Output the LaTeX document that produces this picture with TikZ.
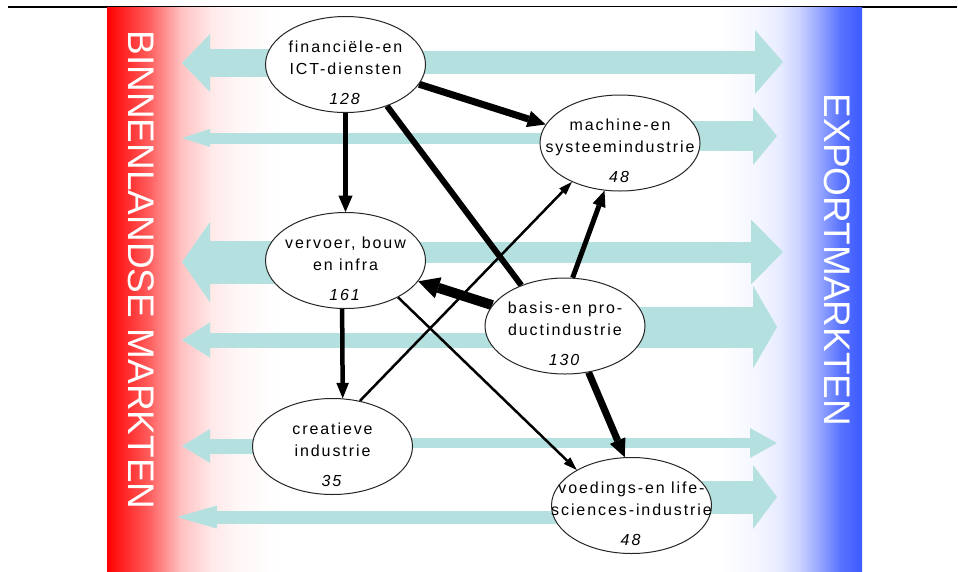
\documentclass[tikz,border=0pt]{standalone}
\usepackage{fontspec}
\setmainfont{Liberation Sans}
\newfontfamily\sectorfont{Liberation Sans}[LetterSpace=12]
\usetikzlibrary{arrows.meta,shapes.geometric}
\definecolor{flowcyan}{RGB}{180,224,224}
\definecolor{exportblue}{RGB}{60,90,255}
\pgfdeclarelayer{shade}
\pgfdeclarelayer{flows}
\pgfdeclarelayer{links}
\pgfsetlayers{shade,flows,links,main}
\newcommand{\sectorlabel}[3]{\strut #1\\#2\\[8pt]\textit{#3}}

\begin{document}
\begin{tikzpicture}[x=1pt,y=-1pt,
  sector/.style={ellipse,draw=black!85,line width=1pt,fill=white,minimum width=160pt,minimum height=96pt,inner sep=0pt},
  sectortext/.style={font=\sectorfont\fontsize{16}{22}\selectfont,align=center,inner sep=0pt,yshift=-6pt},
  flow/.style n args={3}{draw=flowcyan,line width=#1pt,-{Triangle[length=#3pt,width=#2pt,line width=0pt]}},
  link/.style={line width=#1pt,-{Triangle[length=11pt 1,width=5pt 1.7,line width=0pt]}},
  market/.style={text=white,font=\fontsize{37}{40}\selectfont,rotate=-90,inner sep=0pt}]
\useasboundingbox (0,0) rectangle (958,571);

\begin{pgfonlayer}{shade}
\draw[line width=1.2pt] (8,7) -- (957,7);
\fill[white] (107,7) rectangle (862,571);
\shade[left color=red, right color=red!62] (107,7) rectangle (150.5,571);
\shade[left color=red!62, right color=red!25] (150,7) rectangle (180.5,571);
\shade[left color=red!25, right color=red!9] (180,7) rectangle (210.5,571);
\shade[left color=red!9, right color=red!3] (210,7) rectangle (240.5,571);
\shade[left color=red!3, right color=white] (240,7) rectangle (280,571);
\shade[left color=white, right color=exportblue!4] (715,7) rectangle (750.5,571);
\shade[left color=exportblue!4, right color=exportblue!12] (750,7) rectangle (780.5,571);
\shade[left color=exportblue!12, right color=exportblue!28] (780,7) rectangle (800.5,571);
\shade[left color=exportblue!28, right color=exportblue!55] (800,7) rectangle (820.5,571);
\shade[left color=exportblue!55, right color=exportblue!85] (820,7) rectangle (840.5,571);
\shade[left color=exportblue!85, right color=exportblue] (840,7) rectangle (862,571);
\end{pgfonlayer}

\node[market] (binnen) at (141.5,270) {BINNENLANDSE MARKTEN};
\node[market] (export) at (837,260) {EXPORTMARKTEN};

\node[sector] (fin) at (345.5,64.5) {};
\node[sector] (mach) at (620,143) {};
\node[sector] (verv) at (345.5,260.5) {};
\node[sector] (bas) at (565,326) {};
\node[sector] (crea) at (332.5,446.5) {};
\node[sector] (voed) at (631.5,505.5) {};

\node[sectortext] (fintext) at (fin) {\sectorlabel{financiële-en}{ICT-diensten}{128}};
\node[sectortext] (machtext) at (mach) {\sectorlabel{machine-en}{systeemindustrie}{48}};
\node[sectortext] (vervtext) at (verv) {\sectorlabel{vervoer, bouw}{en infra}{161}};
\node[sectortext] (bastext) at (bas) {\sectorlabel{basis-en pro-}{ductindustrie}{130}};
\node[sectortext] (creatext) at (crea) {\sectorlabel{creatieve}{industrie}{35}};
\node[sectortext] (voedtext) at (voed) {\sectorlabel{voedings-en life-}{sciences-industrie}{48}};

\coordinate (finL) at (182,63);
\coordinate (machL) at (182,138);
\coordinate (vervL) at (182,262);
\coordinate (basL) at (182,340);
\coordinate (creaL) at (182,446);
\coordinate (voedL) at (177,517);
\coordinate (finR) at (783,62);
\coordinate (machR) at (777,136);
\coordinate (vervR) at (783,252);
\coordinate (basR) at (777,327);
\coordinate (creaR) at (777,443);
\coordinate (voedR) at (777,497);

\begin{pgfonlayer}{flows}
\draw[flow={28}{58}{28}] (fin.center |- finL) -- (finL);
\draw[flow={11}{18}{28}] (mach.center |- machL) -- (machL);
\draw[flow={43}{80}{28}] (verv.center |- vervL) -- (vervL);
\draw[flow={15}{35}{28}] (bas.center |- basL) -- (basL);
\draw[flow={15}{34}{28}] (crea.center |- creaL) -- (creaL);
\draw[flow={13}{23}{40}] (voed.center |- voedL) -- (voedL);
\draw[flow={23}{64}{28}] (fin.center |- finR) -- (finR);
\draw[flow={30}{58}{24}] (mach.center |- machR) -- (machR);
\draw[flow={21}{65}{32}] (verv.center |- vervR) -- (vervR);
\draw[flow={41}{83}{24}] (bas.center |- basR) -- (basR);
\draw[flow={10}{30}{27}] (crea.center |- creaR) -- (creaR);
\draw[flow={33}{64}{24}] (voed.center |- voedR) -- (voedR);
\end{pgfonlayer}

\begin{pgfonlayer}{links}
\draw[link=7] (fin.-15) -- (mach.166);
\draw[link=5.5] (fin.south) -- (verv.north);
\draw[line width=6pt] (fin.-45) -- (bas.137);
\draw[link=10] (bas.164) -- (verv.-16);
\draw[link=5] (bas.81) -- (mach.-108);
\draw[link=7] (bas.-63) -- (voed.98);
\draw[link=4.5] (verv.-94) -- (crea.78);
\draw[link=2.5] (crea.59) -- (mach.-141);
\draw[link=2.5] (verv.-35) -- (voed.147);
\end{pgfonlayer}
\end{tikzpicture}
\end{document}
